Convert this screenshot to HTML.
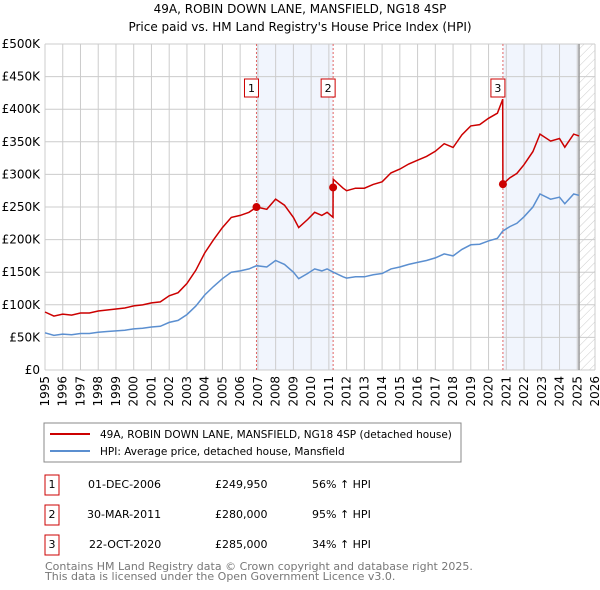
<!DOCTYPE html>
<html><head><meta charset="utf-8"><style>
body{margin:0;background:#fff;font-family:"DejaVu Sans","Liberation Sans",sans-serif;}
#wrap{position:relative;width:600px;height:590px;overflow:hidden}
text{font-family:"DejaVu Sans","Liberation Sans",sans-serif}
</style></head><body><div id="wrap">
<svg id="svg" width="600" height="590" xmlns="http://www.w3.org/2000/svg">
<defs><pattern id="hatch" width="6" height="6" patternUnits="userSpaceOnUse" patternTransform="rotate(45)"><line x1="0" y1="0" x2="0" y2="6" stroke="#ccc" stroke-width="1"/></pattern></defs>
<text x="300" y="13" text-anchor="middle" font-size="12">49A, ROBIN DOWN LANE, MANSFIELD, NG18 4SP</text>
<text x="300" y="31" text-anchor="middle" font-size="12">Price paid vs. HM Land Registry's House Price Index (HPI)</text>
<g id="plot"></g>
<rect x="44" y="423" width="417" height="39" fill="#fff" stroke="#888"/>
<line x1="50" y1="434" x2="90" y2="434" stroke="#cc0000" stroke-width="2"/>
<text x="100" y="438" font-size="10.5">49A, ROBIN DOWN LANE, MANSFIELD, NG18 4SP (detached house)</text>
<line x1="50" y1="451" x2="90" y2="451" stroke="#5b8fd0" stroke-width="2"/>
<text x="100" y="455" font-size="10.5">HPI: Average price, detached house, Mansfield</text>
<g font-size="11">
<rect x="45" y="475" width="14" height="20" fill="#fff" stroke="#cc0000"/><text x="52" y="488" text-anchor="middle">1</text>
<text x="88" y="488">01-DEC-2006</text><text x="215" y="488">£249,950</text><text x="312" y="488">56% ↑ HPI</text>
<rect x="45" y="505" width="14" height="20" fill="#fff" stroke="#cc0000"/><text x="52" y="518" text-anchor="middle">2</text>
<text x="87" y="518">30-MAR-2011</text><text x="215" y="518">£280,000</text><text x="312" y="518">95% ↑ HPI</text>
<rect x="45" y="535" width="14" height="20" fill="#fff" stroke="#cc0000"/><text x="52" y="548" text-anchor="middle">3</text>
<text x="89" y="548">22-OCT-2020</text><text x="215" y="548">£285,000</text><text x="312" y="548">34% ↑ HPI</text>
</g>
<text x="45" y="570" font-size="11" fill="#777">Contains HM Land Registry data © Crown copyright and database right 2025.</text>
<text x="45" y="580" font-size="11" fill="#777">This data is licensed under the Open Government Licence v3.0.</text>
</svg></div>
<script>
const hpiYears=[1995,1995.5,1996,1996.5,1997,1997.5,1998,1998.5,1999,1999.5,2000,2000.5,2001,2001.5,2002,2002.5,2003,2003.5,2004,2004.5,2005,2005.5,2006,2006.5,2006.92,2007.5,2008,2008.5,2009,2009.3,2009.8,2010.2,2010.6,2010.9,2011.25,2011.8,2012,2012.5,2013,2013.5,2014,2014.5,2015,2015.5,2016,2016.5,2017,2017.5,2018,2018.5,2019,2019.5,2020,2020.5,2020.8,2021.2,2021.6,2022,2022.5,2022.9,2023.5,2024,2024.3,2024.8,2025.1];
const hpiValues=[57,53,55,54,56,56,58,59,60,61,63,64,66,67,73,76,85,98,115,128,140,150,152,155,160,158,168,162,150,140,148,155,152,155,150,143,141,143,143,146,148,155,158,162,165,168,172,178,175,185,192,193,198,202,213,220,225,235,250,270,262,265,255,270,268];
const sales=[{n:"1",year:2006.92,price:249.95,ratio:1.56},{n:"2",year:2011.24,price:280,ratio:1.95},{n:"3",year:2020.81,price:285,ratio:1.34}];
const yTicks=[0,50,100,150,200,250,300,350,400,450,500];
const xTicks=[1995,1996,1997,1998,1999,2000,2001,2002,2003,2004,2005,2006,2007,2008,2009,2010,2011,2012,2013,2014,2015,2016,2017,2018,2019,2020,2021,2022,2023,2024,2025,2026];
const X0=45,X1=595,Y0=370,Y1=44;
const xs=y=>X0+(y-1995)/31*(X1-X0);
const ys=v=>Y0-v/500*(Y0-Y1);
const g=document.getElementById('plot');const NS="http://www.w3.org/2000/svg";
function mk(t,a,p){const e=document.createElementNS(NS,t);for(const k in a)e.setAttribute(k,a[k]);(p||g).appendChild(e);return e;}
let r;
r=mk('rect',{x:xs(sales[0].year),y:Y1,width:xs(sales[1].year)-xs(sales[0].year),height:Y0-Y1,fill:'#eef3fc',opacity:0.8});


r=mk('rect',{x:xs(sales[2].year),y:Y1,width:xs(2025.1)-xs(sales[2].year),height:Y0-Y1,fill:'#eef3fc',opacity:0.8});


r=mk('rect',{x:xs(2025.1),y:Y1,width:X1-xs(2025.1),height:Y0-Y1,fill:'url(#hatch)'});


yTicks.forEach(v=>{const l=mk('line',{x1:X0,x2:X1,y1:ys(v),y2:ys(v),stroke:'#ccc'});


const t=mk('text',{x:X0-5,y:ys(v)+4,'text-anchor':'end','font-size':12});t.textContent=v===0?'£0':'£'+v+'K';

});
xTicks.forEach(y=>{const l=mk('line',{x1:xs(y),x2:xs(y),y1:Y1,y2:Y0,stroke:'#ccc'});


const t=mk('text',{x:0,y:0,'text-anchor':'end','font-size':12,transform:`translate(${xs(y)+4},${Y0+6}) rotate(-90)`});t.textContent=y;

});
r=mk('line',{x1:xs(2025.1),x2:xs(2025.1),y1:Y1,y2:Y0,stroke:'#999','stroke-width':1.5});


sales.forEach(s=>{const l=mk('line',{x1:xs(s.year),x2:xs(s.year),y1:Y1,y2:Y0,stroke:'#e06666','stroke-dasharray':'2,2'});

});
let d=hpiYears.map((y,i)=>(i?'L':'M')+xs(y).toFixed(1)+','+ys(hpiValues[i]).toFixed(1)).join('');
r=mk('path',{d:d,fill:'none',stroke:'#5b8fd0','stroke-width':1.5});


function hpiAt(y){for(let i=1;i<hpiYears.length;i++){if(y<=hpiYears[i]){const f=(y-hpiYears[i-1])/(hpiYears[i]-hpiYears[i-1]);return hpiValues[i-1]+f*(hpiValues[i]-hpiValues[i-1]);}}return hpiValues[hpiValues.length-1];}
let pts=[];
hpiYears.forEach((y,i)=>{let ratio=y<sales[1].year?sales[0].ratio:(y<sales[2].year?sales[1].ratio:sales[2].ratio);
pts.push([y,hpiValues[i]*ratio]);});
sales.forEach((s,k)=>{const prev=k===0?s.ratio:sales[k-1].ratio;pts.push([s.year-0.01,hpiAt(s.year)*prev]);pts.push([s.year,s.price]);});
pts.push([2020.75,hpiAt(2020.75)*sales[1].ratio]);
pts.sort((a,b)=>a[0]-b[0]);
d=pts.map((p,i)=>(i?'L':'M')+xs(p[0]).toFixed(1)+','+ys(p[1]).toFixed(1)).join('');
r=mk('path',{d:d,fill:'none',stroke:'#cc0000','stroke-width':1.5});


sales.forEach(s=>{const c=mk('circle',{cx:xs(s.year),cy:ys(s.price),r:4,fill:'#cc0000'});


const b=mk('rect',{x:xs(s.year)-12,y:79,width:14,height:18,fill:'#fff',stroke:'#cc0000'});


const t=mk('text',{x:xs(s.year)-5,y:92,'text-anchor':'middle','font-size':11});t.textContent=s.n;

});
</script></body></html>
